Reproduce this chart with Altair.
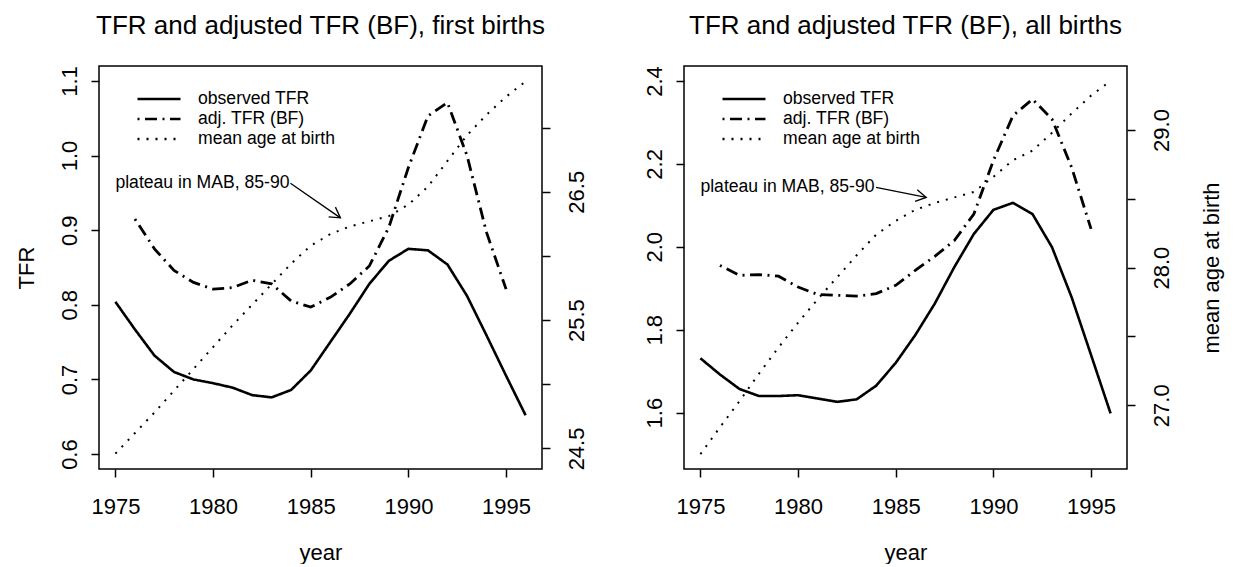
import altair as alt
import pandas as pd

FONT = "Liberation Sans"

years = list(range(1975, 1997))
adj_years = list(range(1976, 1996))

obs_first = [0.804, 0.767, 0.732, 0.710, 0.700, 0.695, 0.689, 0.679, 0.676, 0.686, 0.712,
             0.750, 0.788, 0.828, 0.859, 0.875, 0.873, 0.854, 0.812, 0.759, 0.705, 0.652]
adj_first = [0.915, 0.875, 0.846, 0.830, 0.821, 0.823, 0.833, 0.828, 0.805, 0.797,
             0.810, 0.828, 0.852, 0.904, 0.984, 1.053, 1.071, 1.000, 0.897, 0.821]
mab_first = [24.46, 24.62, 24.78, 24.95, 25.12, 25.29, 25.46, 25.62, 25.78, 25.94, 26.08,
             26.17, 26.23, 26.27, 26.31, 26.40, 26.54, 26.74, 26.94, 27.10, 27.24, 27.36]

obs_all = [1.731, 1.692, 1.657, 1.640, 1.640, 1.642, 1.634, 1.626, 1.632, 1.665, 1.720,
           1.787, 1.863, 1.951, 2.031, 2.089, 2.106, 2.079, 1.999, 1.879, 1.739, 1.598]
adj_all = [1.955, 1.931, 1.933, 1.929, 1.903, 1.885, 1.883, 1.881, 1.887, 1.907,
           1.943, 1.977, 2.015, 2.079, 2.208, 2.316, 2.356, 2.308, 2.192, 2.043]
mab_all = [26.645, 26.84, 27.03, 27.23, 27.42, 27.60, 27.77, 27.93, 28.09, 28.24, 28.34,
           28.42, 28.47, 28.51, 28.55, 28.66, 28.78, 28.85, 28.98, 29.12, 29.25, 29.357]

series_names = ["observed TFR", "adj. TFR (BF)", "mean age at birth"]
dash_range = [[1, 0], [2, 5.5, 12, 5.5], [2, 7]]

x_ticks = [1975, 1980, 1985, 1990, 1995]
x_domain = [1974.16, 1996.84]

tfr_ticks_first = [0.6, 0.7, 0.8, 0.9, 1.0, 1.1]
tfr_domain_first = [0.58, 1.12]
mab_ticks_first = [24.5, 25.0, 25.5, 26.0, 26.5, 27.0]
mab_labels_first = [24.5, 25.5, 26.5]
mab_domain_first = [24.34, 27.48]

tfr_ticks_all = [1.6, 1.8, 2.0, 2.2, 2.4]
tfr_domain_all = [1.464, 2.436]
mab_ticks_all = [27.0, 27.5, 28.0, 28.5, 29.0]
mab_labels_all = [27.0, 28.0, 29.0]
mab_domain_all = [26.537, 29.465]

ann_text = "plateau in MAB, 85-90"
ann_x_first, ann_y_first = [1975.0], [0.963]
arrow_first = {"x0": [1983.96], "y0": [0.963], "x1": [1986.52], "y1": [0.9165], "angle": [35]}
ann_x_all, ann_y_all = [1975.0], [2.143]
arrow_all = {"x0": [1983.99], "y0": [2.143], "x1": [1986.56], "y1": [2.119], "angle": [11]}


def panel(title, obs, adj, mab, tfr_dom, tfr_ticks, mab_dom, mab_ticks, mab_labels,
          ann_x, ann_y, arrow, left_title, right_title):
    obs_df = pd.DataFrame({"year": years, "tfr": obs, "series": series_names[0]})
    adj_df = pd.DataFrame({"year": adj_years, "tfr": adj, "series": series_names[1]})
    mab_df = pd.DataFrame({"year": years, "mab": mab, "series": series_names[2]})
    ann_df = pd.DataFrame({"x": ann_x, "y": ann_y, "label": [ann_text]})
    arr_df = pd.DataFrame(arrow)

    x_axis = alt.Axis(values=x_ticks, format="d", title="year", labelPadding=19,
                      titlePadding=25, labelFlush=False)
    x_scale = alt.Scale(domain=x_domain, nice=False, zero=False)
    x_enc = alt.X("year:Q", scale=x_scale, axis=x_axis)
    y_axis = alt.Axis(values=tfr_ticks, format=".1f", title=left_title, labelAngle=270,
                      labelAlign="center", labelBaseline="bottom", labelPadding=10,
                      titlePadding=20, titleAngle=270, labelFlush=False)
    y_scale = alt.Scale(domain=tfr_dom, nice=False, zero=False)

    legend = alt.Legend(orient="none", legendX=37, legendY=23, title=None,
                        symbolType="stroke", symbolSize=1849, symbolStrokeWidth=2.4,
                        symbolStrokeColor="black", labelFontSize=17.6, labelFont=FONT,
                        labelColor="black", labelOffset=16, clipHeight=20, rowPadding=0,
                        padding=0)
    dash = alt.StrokeDash("series:N", scale=alt.Scale(domain=series_names, range=dash_range),
                          legend=legend)

    obs_line = alt.Chart(obs_df).mark_line(color="black", strokeWidth=2.6).encode(
        x=x_enc, y=alt.Y("tfr:Q", scale=y_scale, axis=y_axis), strokeDash=dash)
    adj_line = alt.Chart(adj_df).mark_line(color="black", strokeWidth=2.8).encode(
        x=x_enc, y=alt.Y("tfr:Q", scale=y_scale, axis=y_axis), strokeDash=dash)
    text = alt.Chart(ann_df).mark_text(align="left", baseline="middle", fontSize=17.6,
                                       font=FONT, color="black").encode(
        x=alt.X("x:Q", scale=x_scale, axis=x_axis),
        y=alt.Y("y:Q", scale=y_scale, axis=y_axis), text="label:N")
    rule = alt.Chart(arr_df).mark_rule(color="black", strokeWidth=1.3).encode(
        x=alt.X("x0:Q", scale=x_scale, axis=x_axis),
        y=alt.Y("y0:Q", scale=y_scale, axis=y_axis), x2="x1:Q", y2="y1:Q")
    head = alt.Chart(arr_df).mark_point(shape="M -0.866 -0.5 L 0 0 L -0.866 0.5",
                                        filled=False, color="black", strokeWidth=1.3,
                                        size=560, opacity=1).encode(
        x=alt.X("x1:Q", scale=x_scale, axis=x_axis),
        y=alt.Y("y1:Q", scale=y_scale, axis=y_axis), angle=alt.Angle("angle:Q", scale=None))

    tfr_layer = alt.layer(obs_line, adj_line, text, rule, head)

    label_test = " || ".join([f"datum.value == {v}" for v in mab_labels])
    r_axis = alt.Axis(title=right_title, values=mab_ticks, orient="right", labelAngle=270,
                      labelAlign="center", labelBaseline="top", labelPadding=16,
                      labelExpr=f"({label_test}) ? format(datum.value, '.1f') : ''",
                      titleAngle=270, titleBaseline="top", titlePadding=29, labelFlush=False)
    mab_line = alt.Chart(mab_df).mark_line(color="black", strokeWidth=2.0).encode(
        x=x_enc,
        y=alt.Y("mab:Q", scale=alt.Scale(domain=mab_dom, nice=False, zero=False), axis=r_axis),
        strokeDash=dash)

    return alt.layer(tfr_layer, mab_line).resolve_scale(y="independent").properties(
        width=443, height=403,
        title=alt.TitleParams(title, fontSize=26, font=FONT, fontWeight="normal",
                              anchor="middle", frame="group", baseline="alphabetic",
                              offset=6, color="black"))


left = panel("TFR and adjusted TFR (BF), first births", obs_first, adj_first, mab_first,
             tfr_domain_first, tfr_ticks_first, mab_domain_first, mab_ticks_first,
             mab_labels_first, ann_x_first, ann_y_first, arrow_first, "TFR", None)
right = panel("TFR and adjusted TFR (BF), all births", obs_all, adj_all, mab_all,
              tfr_domain_all, tfr_ticks_all, mab_domain_all, mab_ticks_all,
              mab_labels_all, ann_x_all, ann_y_all, arrow_all, None, "mean age at birth")

chart = alt.hconcat(left, right, spacing=142, bounds="flush").resolve_scale(
    strokeDash="independent").resolve_legend(strokeDash="independent").properties(
    padding={"left": 6, "top": 3, "right": 5, "bottom": 0},
    background="white"
).configure_view(stroke="black", strokeWidth=1.5).configure_axis(
    domain=False, grid=False, tickColor="black", tickWidth=1.5, tickSize=8,
    labelFont=FONT, labelFontSize=22, labelColor="black",
    titleFont=FONT, titleFontSize=22, titleFontWeight="normal", titleColor="black"
)

chart.save("out.html", embed_options={"renderer": "svg", "actions": False})
